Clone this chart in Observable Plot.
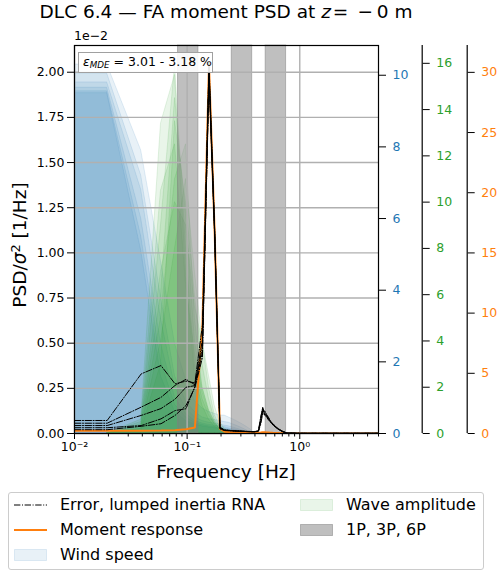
<!DOCTYPE html>
<html>
<head>
<meta charset="utf-8">
<script src="https://cdn.jsdelivr.net/npm/d3@7"></script>
<script src="https://cdn.jsdelivr.net/npm/@observablehq/plot@0.6"></script>
<style>
  html, body { margin: 0; padding: 0; background: #fff; }
  #fig { position: relative; width: 500px; height: 577px; overflow: hidden;
         font-family: "DejaVu Sans", sans-serif; color: #000; }
  #fig > svg { position: absolute; left: 0; top: 0; }
  .txt { position: absolute; line-height: 1; white-space: nowrap; }
  .legend { position: absolute; box-sizing: border-box; border: 1px solid #cccccc;
            border-radius: 3px; background: rgba(255,255,255,0.8); }
  .lg-item { position: absolute; font-size: 16px; line-height: 1; white-space: nowrap; }
  .lg-item svg { position: absolute; }
</style>
</head>
<body>
<div id="fig"></div>
<script>
// Frequency bins [Hz] (the first entry stands for the lower plot limit)
const windFreq = [0.01, 0.0195, 0.0391, 0.0586, 0.0781, 0.0977, 0.1172, 0.1367, 0.1563, 0.1758,
  0.1953, 0.2148, 0.2344, 0.2539, 0.2734, 0.2930, 0.3125, 0.3320, 0.3516, 0.3711, 0.3906];
const waveFreq = [0.0195, 0.0391, 0.0586, 0.0781, 0.0977, 0.1172, 0.1367, 0.1563, 0.1758,
  0.1953, 0.2148, 0.2344, 0.2539];
const respFreq = [0.01, 0.0195, 0.0391, 0.0586, 0.0781, 0.0977, 0.1172, 0.1367, 0.1563, 0.1758,
  0.1953, 0.2148, 0.2344, 0.2539, 0.2734, 0.2930, 0.3125, 0.3320, 0.3516, 0.3711, 0.3906,
  0.4102, 0.4297, 0.4492, 0.4688, 0.4883, 0.5078, 0.5273, 0.5469, 0.5664, 0.5859, 0.6055,
  0.6250, 0.6445, 0.6641, 0.6836, 0.7031, 0.7227, 0.7422, 0.7617, 0.7813, 1.0, 2.0, 3.0, 5.0];

// Wind speed PSD, one row per seed (blue axis)
const windSeed1 = [10.30, 10.30, 7.90, 4.80, 2.50, 1.50, 0.90, 0.70, 0.60, 0.55, 0.50, 0.50, 0.45, 0.40, 0.35, 0.30, 0.25, 0.20, 0.15, 0.10, 0];
const windSeed2 = [10.05, 10.05, 7.20, 3.80, 1.60, 0.90, 0.60, 0.45, 0.40, 0.38, 0.35, 0.32, 0.30, 0.26, 0.22, 0.18, 0.14, 0.10, 0.06, 0.03, 0];
const windSeed3 = [9.80, 9.80, 6.80, 3.20, 1.30, 0.70, 0.45, 0.35, 0.30, 0.28, 0.25, 0.22, 0.20, 0.17, 0.14, 0.11, 0.08, 0.05, 0.03, 0.01, 0];
const windSeed4 = [9.65, 9.65, 6.00, 2.50, 1.00, 0.55, 0.35, 0.28, 0.24, 0.22, 0.20, 0.18, 0.15, 0.12, 0.10, 0.08, 0.05, 0.03, 0.02, 0.01, 0];
const windSeed5 = [9.55, 9.55, 5.50, 2.00, 0.80, 0.45, 0.30, 0.24, 0.20, 0.18, 0.16, 0.14, 0.12, 0.10, 0.08, 0.06, 0.04, 0.02, 0.01, 0, 0];
const windSeed6 = [9.50, 9.50, 5.10, 1.60, 0.60, 0.35, 0.25, 0.20, 0.17, 0.15, 0.13, 0.11, 0.09, 0.07, 0.05, 0.04, 0.03, 0.02, 0.01, 0, 0];

// Wave amplitude PSD, one row per seed (green axis)
const waveSeed1 = [0, 0.3, 9.0, 15.97, 8.0, 3.0, 1.5, 0.8, 0.4, 0.2, 0.1, 0.05, 0];
const waveSeed2 = [0, 0.6, 13.4, 15.5, 7.0, 2.5, 1.2, 0.6, 0.3, 0.15, 0.08, 0.03, 0];
const waveSeed3 = [0, 0.2, 5.0, 11.0, 12.5, 5.0, 2.0, 1.0, 0.5, 0.2, 0.1, 0.05, 0];
const waveSeed4 = [0, 0.1, 3.0, 13.5, 10.0, 6.0, 3.0, 1.5, 0.6, 0.3, 0.15, 0.05, 0];
const waveSeed5 = [0, 0.4, 7.0, 10.0, 9.0, 5.5, 4.0, 2.5, 1.2, 0.5, 0.2, 0.1, 0];
const waveSeed6 = [0, 0.2, 4.0, 8.0, 11.0, 7.0, 4.0, 2.0, 0.8, 0.3, 0.1, 0.05, 0];
const waveSeed7 = [0, 0.3, 6.0, 14.5, 9.5, 4.0, 2.0, 1.0, 0.5, 0.2, 0.1, 0, 0];
const waveSeed8 = [0, 0.5, 10.5, 12.5, 6.5, 3.5, 1.8, 0.9, 0.4, 0.2, 0.1, 0, 0];

// Normalised PSD of the error with lumped RNA inertia, in units of 1e-2 1/Hz (left axis)
const errSeed1 = [0.072, 0.072, 0.330, 0.376, 0.275, 0.290, 0.280, 0.600, 2.050, 1.120, 0.035,
  0.020, 0.018, 0.016, 0.015, 0.014, 0.013, 0.012, 0.012, 0.011, 0.011, 0.012, 0.015,
  0.080, 0.145, 0.110, 0.100, 0.085, 0.070, 0.060, 0.045, 0.040, 0.030, 0.025, 0.020, 0.015, 0.010, 0.008, 0.005, 0.003, 0.002,
  0.001, 0.001, 0.001, 0.001];
const errSeed2 = [0.057, 0.057, 0.146, 0.200, 0.266, 0.300, 0.270, 0.520, 2.030, 1.100, 0.030,
  0.018, 0.017, 0.015, 0.014, 0.013, 0.012, 0.012, 0.011, 0.011, 0.010, 0.011, 0.014,
  0.060, 0.130, 0.120, 0.095, 0.080, 0.068, 0.055, 0.048, 0.038, 0.032, 0.026, 0.020, 0.016, 0.012, 0.009, 0.006, 0.004, 0.002,
  0.001, 0.001, 0.001, 0.001];
const errSeed3 = [0.044, 0.044, 0.100, 0.138, 0.190, 0.256, 0.265, 0.480, 2.010, 1.090, 0.028,
  0.017, 0.016, 0.015, 0.013, 0.012, 0.012, 0.011, 0.010, 0.010, 0.010, 0.011, 0.013,
  0.070, 0.120, 0.125, 0.105, 0.090, 0.072, 0.058, 0.050, 0.042, 0.033, 0.027, 0.022, 0.017, 0.013, 0.010, 0.007, 0.004, 0.002,
  0.001, 0.001, 0.001, 0.001];
const errSeed4 = [0.032, 0.032, 0.044, 0.081, 0.127, 0.137, 0.260, 0.450, 1.990, 1.110, 0.032,
  0.019, 0.017, 0.016, 0.014, 0.013, 0.012, 0.011, 0.011, 0.010, 0.010, 0.012, 0.016,
  0.090, 0.140, 0.100, 0.090, 0.075, 0.065, 0.052, 0.044, 0.036, 0.029, 0.023, 0.018, 0.014, 0.010, 0.007, 0.005, 0.003, 0.002,
  0.001, 0.001, 0.001, 0.001];
const errSeed5 = [0.021, 0.021, 0.040, 0.054, 0.100, 0.155, 0.255, 0.420, 1.970, 1.080, 0.026,
  0.016, 0.015, 0.014, 0.013, 0.012, 0.011, 0.011, 0.010, 0.010, 0.009, 0.010, 0.012,
  0.050, 0.110, 0.105, 0.098, 0.082, 0.066, 0.056, 0.046, 0.039, 0.031, 0.024, 0.019, 0.015, 0.011, 0.008, 0.006, 0.003, 0.002,
  0.001, 0.001, 0.001, 0.001];

// Moment response PSD (orange axis)
const momentResp = [0.22, 0.22, 0.22, 0.24, 0.28, 0.36, 0.50, 9.0, 30.7, 16.5, 0.40,
  0.15, 0.12, 0.10, 0.10, 0.09, 0.08, 0.08, 0.07, 0.07, 0.07, 0.07, 0.07,
  0.08, 0.10, 0.10, 0.09, 0.08, 0.07, 0.06, 0.05, 0.05, 0.04, 0.04, 0.03, 0.03, 0.02, 0.02, 0.02, 0.01, 0.01,
  0.005, 0.002, 0.001, 0.001];

// Rotor harmonics bands [Hz]: 1P, 3P, 6P
const bandNames = ["1P", "3P", "6P"];
const bandLow = [0.083, 0.249, 0.498];
const bandHigh = [0.126, 0.378, 0.756];

// Tick values
const mainTicks = [0, 0.25, 0.5, 0.75, 1.0, 1.25, 1.5, 1.75, 2.0];
const windTicks = [0, 2, 4, 6, 8, 10];
const waveTicks = [0, 2, 4, 6, 8, 10, 12, 14, 16];
const momentTicks = [0, 5, 10, 15, 20, 25, 30];
const freqMajor = [0.01, 0.1, 1];
const freqMinor = [0.02, 0.03, 0.04, 0.05, 0.06, 0.07, 0.08, 0.09,
  0.2, 0.3, 0.4, 0.5, 0.6, 0.7, 0.8, 0.9, 2, 3, 4, 5];
const freqLabels = ["10\u207B\u00B2", "10\u207B\u00B9", "10\u2070"];

// Upper limits of each vertical axis
const MAIN_TOP = 2.148, WIND_TOP = 10.83, WAVE_TOP = 16.77, MOMENT_TOP = 32.23;
const kWind = MAIN_TOP / WIND_TOP, kWave = MAIN_TOP / WAVE_TOP, kMoment = MAIN_TOP / MOMENT_TOP;

const BLUE = "#1f77b4", GREEN = "#2ca02c", ORANGE = "#ff7f0e";

// Long tables; the twin-axis series are mapped onto the left axis units
const windRows = [windSeed1, windSeed2, windSeed3, windSeed4, windSeed5, windSeed6]
  .flatMap((s, i) => s.map((v, j) => ({seed: i, f: windFreq[j], y: v * kWind})));
const waveRows = [waveSeed1, waveSeed2, waveSeed3, waveSeed4, waveSeed5, waveSeed6, waveSeed7, waveSeed8]
  .flatMap((s, i) => s.map((v, j) => ({seed: i, f: waveFreq[j], y: v * kWave})));
const errRows = [errSeed1, errSeed2, errSeed3, errSeed4, errSeed5]
  .flatMap((s, i) => s.map((v, j) => ({seed: i, f: respFreq[j], y: v})));
const momentRows = momentResp.map((v, j) => ({f: respFreq[j], y: v * kMoment}));
const bands = bandNames.map((name, i) => ({name, lo: bandLow[i], hi: bandHigh[i]}));

const gridStyle = {stroke: "#b0b0b0", strokeOpacity: 1, strokeWidth: 1.4};
const OFFSET_WAVE = 43.7, OFFSET_MOMENT = 88.7;

const chart = Plot.plot({
  width: 500,
  height: 577,
  marginLeft: 74,
  marginRight: 122,
  marginTop: 45,
  marginBottom: 144,
  style: {fontFamily: "DejaVu Sans", fontSize: "12.5px", background: "transparent", overflow: "visible"},
  x: {type: "log", domain: [0.01, 5]},
  y: {domain: [0, MAIN_TOP]},
  marks: [
    // wind and wave spectra, one translucent (unstacked) fill per seed
    Plot.areaY(windRows, {x: "f", y1: 0, y2: "y", z: "seed", fill: BLUE, fillOpacity: 0.1,
      stroke: BLUE, strokeOpacity: 0.12, strokeWidth: 1, clip: true}),
    Plot.areaY(waveRows, {x: "f", y1: 0, y2: "y", z: "seed", fill: GREEN, fillOpacity: 0.1,
      stroke: GREEN, strokeOpacity: 0.12, strokeWidth: 1, clip: true}),
    // rotor harmonics
    Plot.rect(bands, {x1: "lo", x2: "hi", fill: "gray", fillOpacity: 0.5,
      stroke: "gray", strokeOpacity: 0.5, strokeWidth: 1}),
    // grid
    Plot.gridY(mainTicks, gridStyle),
    Plot.gridX(freqMajor, gridStyle),
    // moment response, then error spectra on top
    Plot.line(momentRows, {x: "f", y: "y", stroke: ORANGE, strokeWidth: 2, clip: true}),
    Plot.line(errRows, {x: "f", y: "y", z: "seed", stroke: "black", strokeWidth: 1,
      strokeDasharray: "6.4,1.6,1,1.6", clip: true}),
    Plot.frame({stroke: "black", strokeWidth: 1.2}),
    // bottom frequency axis
    Plot.axisX(freqMajor, {tickSize: 6, tickPadding: 3, fontSize: 12.5,
      tickFormat: (d) => freqLabels[freqMajor.indexOf(d)], label: null}),
    Plot.axisX(freqMinor, {tickSize: 3.5, tickFormat: () => "", label: null}),
    // left PSD axis
    Plot.axisY(mainTicks, {anchor: "left", tickSize: 7, tickPadding: 3, fontSize: 12.5,
      tickFormat: (d) => d.toFixed(2), label: null}),
    // wind speed axis (blue)
    Plot.axisY(windTicks.map((t) => t * kWind), {anchor: "right", tickSize: 7, tickPadding: 7,
      fontSize: 12.5, stroke: "black", fill: BLUE, label: null,
      tickFormat: (d) => String(Math.round(d / kWind))}),
    // wave amplitude axis (green), offset to the right
    Plot.ruleX([5], {dx: OFFSET_WAVE, stroke: "black", strokeWidth: 1.2}),
    Plot.axisY(waveTicks.map((t) => t * kWave), {anchor: "right", dx: OFFSET_WAVE, tickSize: 7, tickPadding: 7,
      fontSize: 12.5, stroke: "black", fill: GREEN, label: null,
      tickFormat: (d) => String(Math.round(d / kWave))}),
    // moment response axis (orange), offset further right
    Plot.ruleX([5], {dx: OFFSET_MOMENT, stroke: "black", strokeWidth: 1.2}),
    Plot.axisY(momentTicks.map((t) => t * kMoment), {anchor: "right", dx: OFFSET_MOMENT, tickSize: 7, tickPadding: 7,
      fontSize: 12.5, stroke: "black", fill: ORANGE, label: null,
      tickFormat: (d) => String(Math.round(d / kMoment))})
  ]
});

const fig = document.getElementById("fig");
fig.appendChild(chart);

function addText(html, style) {
  const el = document.createElement("div");
  el.className = "txt";
  el.innerHTML = html;
  Object.assign(el.style, style);
  fig.appendChild(el);
  return el;
}

// title
addText('DLC 6.4 — FA moment PSD at <i>z</i>&#8202;=&#8194;&#8722;&#8201;0 m',
  {left: "0px", width: "452px", textAlign: "center", top: "2.6px", fontSize: "18.5px"});
// offset text for the left axis
addText('1e\u22122', {left: "74px", top: "29.5px", fontSize: "12.5px"});
// axis labels
addText('Frequency [Hz]', {left: "0px", width: "452px", textAlign: "center", top: "463px", fontSize: "18.5px"});
addText('PSD/<i>σ</i><sup style="font-size:70%;line-height:0;vertical-align:0.45em">2</sup> [1/Hz]',
  {left: "20.3px", top: "245px", fontSize: "18.5px", transform: "translate(-50%,-50%) rotate(-90deg)"});
// error annotation
addText('<i>ε</i><sub style="font-size:70%;line-height:0;vertical-align:-0.25em"><i>MDE</i></sub> = 3.01 - 3.18 %',
  {left: "78px", top: "51.5px", width: "135px", height: "21px", boxSizing: "border-box",
   border: "1.5px solid #a0a0a0", background: "rgba(255,255,255,0.9)", fontSize: "12.5px",
   paddingLeft: "4px", paddingTop: "3px"});

// legend
const legend = document.createElement("div");
legend.className = "legend";
Object.assign(legend.style, {left: "8px", top: "492px", width: "476px", height: "78px"});
fig.appendChild(legend);

const handles = {
  err: '<line x1="0" y1="6" x2="33" y2="6" stroke="black" stroke-width="1" stroke-dasharray="6.4,1.6,1,1.6"/>',
  moment: `<line x1="0" y1="6" x2="33" y2="6" stroke="${ORANGE}" stroke-width="2"/>`,
  wind: `<rect x="0.5" y="0.5" width="32" height="11" fill="${BLUE}" fill-opacity="0.1" stroke="${BLUE}" stroke-opacity="0.12"/>`,
  wave: `<rect x="0.5" y="0.5" width="32" height="11" fill="${GREEN}" fill-opacity="0.1" stroke="${GREEN}" stroke-opacity="0.12"/>`,
  bands: '<rect x="0.5" y="0.5" width="32" height="11" fill="gray" fill-opacity="0.5" stroke="gray" stroke-opacity="0.5"/>'
};
const legendItems = [
  {h: "err", label: "Error, lumped inertia RNA", x: 14, y: 505},
  {h: "moment", label: "Moment response", x: 14, y: 530},
  {h: "wind", label: "Wind speed", x: 14, y: 555},
  {h: "wave", label: "Wave amplitude", x: 300, y: 505},
  {h: "bands", label: "1P, 3P, 6P", x: 300, y: 530}
];
for (const it of legendItems) {
  const item = document.createElement("div");
  item.className = "lg-item";
  Object.assign(item.style, {left: it.x + "px", top: (it.y - 6) + "px", height: "12px"});
  item.innerHTML = `<svg width="34" height="12" style="left:0;top:0">${handles[it.h]}</svg>` +
    `<span style="position:absolute;left:46px;top:-2px">${it.label}</span>`;
  fig.appendChild(item);
}
</script>
</body>
</html>
